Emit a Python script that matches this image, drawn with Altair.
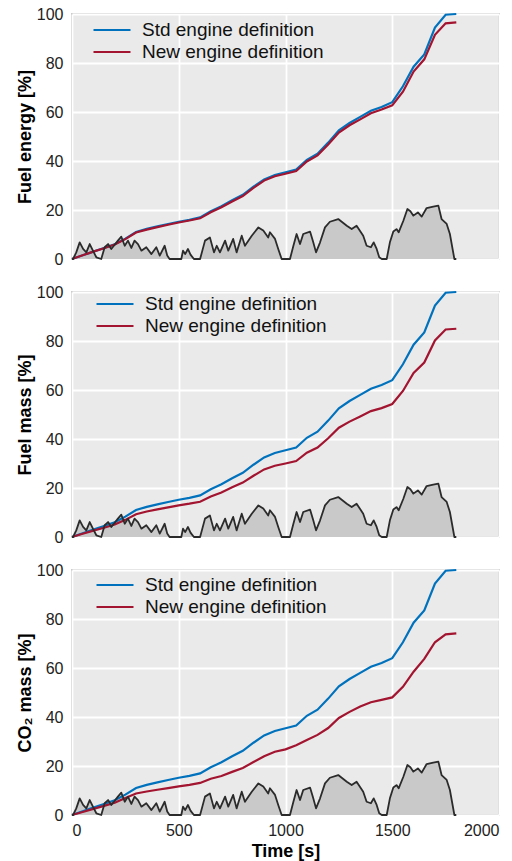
import altair as alt
import pandas as pd

# ---------------- data ----------------
time = [0, 50, 100, 150, 200, 250, 300, 350, 400, 450, 500, 550, 600, 650, 700,
        750, 800, 850, 900, 950, 1000, 1050, 1100, 1150, 1200, 1250, 1300, 1350,
        1400, 1450, 1500, 1550, 1600, 1650, 1700, 1750, 1800]

std_engine = [0, 1.5, 3, 4.5, 6, 8.3, 11, 12.3, 13.3, 14.3, 15.2, 16, 17, 19.5, 21.5,
              24, 26.2, 29.5, 32.5, 34.3, 35.4, 36.5, 40.5, 43, 47.5, 52.5, 55.5, 58,
              60.5, 62, 64, 70.5, 78.5, 83.5, 94.5, 99.7, 100]

new_energy = [0, 1.5, 3, 4.4, 5.9, 8.1, 10.8, 12, 13, 14, 14.9, 15.7, 16.6, 19.1, 21.1,
              23.5, 25.7, 29, 32, 33.8, 34.8, 35.9, 39.8, 42.3, 46.7, 51.6, 54.6, 57,
              59.5, 61, 62.7, 68.3, 76.5, 81.5, 91.5, 96.2, 96.6]

new_mass = [0, 1.3, 2.6, 3.8, 5.1, 7, 9.3, 10.4, 11.3, 12.1, 12.9, 13.6, 14.4, 16.5, 18.2,
            20.3, 22.2, 25, 27.6, 29.1, 30, 31, 34.4, 36.5, 40.3, 44.6, 47.1, 49.2,
            51.4, 52.6, 54.3, 59.6, 67, 71.2, 80.2, 84.7, 85]

new_co2 = [0, 1.2, 2.5, 3.7, 5, 6.9, 8.8, 9.6, 10.3, 11, 11.7, 12.3, 13.1, 14.8, 15.9,
           17.6, 19.2, 21.6, 24, 25.8, 26.8, 28.5, 30.6, 32.7, 35.5, 39.6, 42.1, 44.3,
           46, 47, 48, 52.3, 58.5, 63.7, 70.5, 73.7, 74.1]

speed_time = [0, 5, 20, 36, 52, 67, 83, 98, 114, 137, 153, 169, 184, 200, 215, 231, 247,
              262, 278, 293, 309, 325, 348, 372, 395, 411, 434, 446, 457, 512, 520, 530,
              543, 555, 571, 600, 623, 646, 665, 678, 693, 717, 732, 755, 771, 795, 810,
              842, 873, 896, 919, 927, 951, 966, 982, 1021, 1037, 1052, 1068, 1083, 1115,
              1130, 1143, 1162, 1185, 1208, 1247, 1287, 1310, 1333, 1364, 1380, 1400,
              1413, 1427, 1439, 1451, 1474, 1489, 1505, 1520, 1530, 1552, 1571, 1585,
              1599, 1620, 1638, 1661, 1692, 1716, 1731, 1755, 1770, 1791, 1800]

speed_val = [0, 0, 2.7, 6.8, 4.1, 2.7, 6.1, 3.4, 0.7, 0, 4.8, 6.1, 4.1, 5.8, 7.5, 9.1, 5.4,
             7.5, 4.5, 7.5, 6.1, 3.4, 4.8, 2.0, 4.8, 1.4, 5.4, 1.4, 0, 0, 3.4, 2, 4.1,
             1.8, 0, 0, 7.5, 8.8, 2.7, 5.4, 2.7, 7.5, 3.4, 8.2, 2.7, 9.5, 5.4, 9.5, 12.9,
             11.6, 8.8, 10.9, 8.2, 4.1, 0, 0, 5.4, 10.2, 6.1, 10.2, 11.2, 6.8, 2.7, 6.8,
             12.9, 15.2, 16.3, 13.6, 12.2, 13.6, 9.5, 5.4, 4.8, 6.8, 4.1, 0.7, 0, 0, 6.8,
             11.2, 12.2, 10.9, 15.6, 20.4, 19.5, 17.7, 19, 17.3, 20.8, 21.4, 21.8, 16.3,
             14.3, 10.2, 0, 0]

series_names = ["Std engine definition", "New engine definition"]
series_colors = ["#0072BD", "#A2142F"]
x_ticks = [0, 500, 1000, 1500, 2000]
y_ticks = [0, 20, 40, 60, 80, 100]

FONT = "Liberation Sans"
W, H = 427, 245

speed_df = pd.DataFrame({"time": speed_time, "speed": speed_val})


def panel(new_vals, ytitle, bottom, lx, ly, loff):
    n = len(time)
    df = pd.DataFrame({
        "time": time + time,
        "value": std_engine + new_vals,
        "series": [series_names[0]] * n + [series_names[1]] * n,
    })
    if bottom:
        xaxis = alt.Axis(values=x_ticks, format="d", title="Time [s]",
                         labelPadding=7, titlePadding=4)
    else:
        xaxis = alt.Axis(values=x_ticks, labels=False, title=None,
                         minExtent=0, maxExtent=0)
    xenc = alt.X("time:Q", scale=alt.Scale(domain=[0, 2000], nice=False), axis=xaxis)
    yaxis = alt.Axis(values=y_ticks, format="d", title=ytitle, titleX=-47,
                     titleY=H / 2, titleAngle=270, titleAlign="center",
                     titleBaseline="middle", labelPadding=9)
    yscale = alt.Scale(domain=[0, 100], nice=False)

    area = alt.Chart(speed_df).mark_area(color="#c9c9c9", opacity=1).encode(
        x=xenc, y=alt.Y("speed:Q", scale=yscale, axis=yaxis))
    lines = alt.Chart(df).mark_line(strokeWidth=2.2).encode(
        x=alt.X("time:Q"),
        y=alt.Y("value:Q"),
        color=alt.Color("series:N",
                        scale=alt.Scale(domain=series_names, range=series_colors),
                        sort=series_names,
                        legend=alt.Legend(orient="none", legendX=lx, legendY=ly,
                                          title=None, symbolType="stroke",
                                          symbolSize=1369, symbolStrokeWidth=2.2,
                                          labelFontSize=19, labelFont=FONT,
                                          labelColor="#111", labelLimit=0,
                                          clipHeight=22, rowPadding=-4, padding=0,
                                          labelOffset=loff)),
    )
    sline = alt.Chart(speed_df).mark_line(color="#2b2b2b", strokeWidth=1.8,
                                          strokeJoin="round").encode(
        x=alt.X("time:Q"), y=alt.Y("speed:Q"))
    return alt.layer(area, lines, sline).properties(width=W, height=H)


p1 = panel(new_energy, "Fuel energy [%]", False, 20, 5, 10)
p2 = panel(new_mass, "Fuel mass [%]", False, 23, 1, 10)
p3 = panel(new_co2, "CO\u2082 mass [%]", True, 23, 4, 10)

chart = alt.vconcat(p1, p2, p3, spacing=15).resolve_legend(
    color="independent").properties(
    padding={"left": 15, "top": 5, "right": 5, "bottom": 5},
    background="white",
).configure_view(
    fill="#EAEAEA", stroke="#CCCCCC", strokeWidth=2
).configure_axis(
    grid=True, gridColor="white", gridWidth=1.8, domain=False, ticks=False,
    labelFont=FONT, labelFontSize=16, labelColor="#222",
    titleFont=FONT, titleFontSize=18, titleFontWeight="bold", titleColor="black",
)

chart.save("out.html", embed_options={"renderer": "svg", "actions": False})
